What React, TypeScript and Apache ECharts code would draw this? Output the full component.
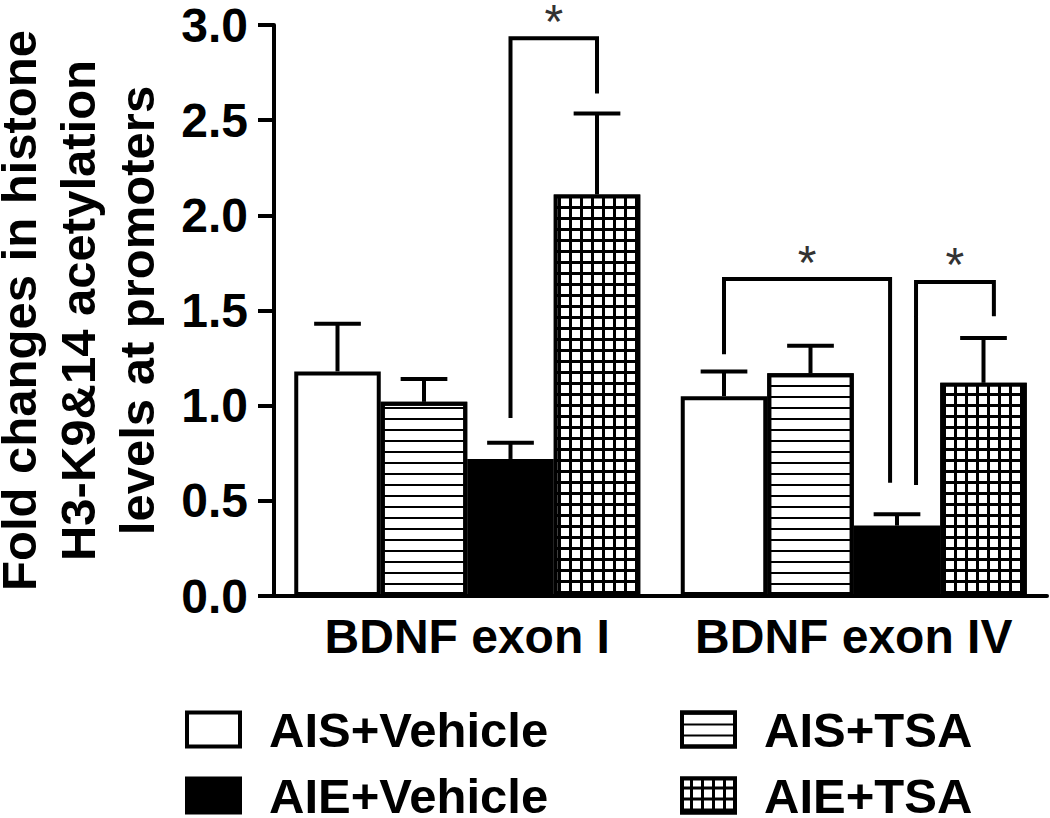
import React, { useEffect, useRef } from 'react';
import * as echarts from 'echarts';

const categories = ['BDNF exon I', 'BDNF exon IV'];
const seriesNames = ['AIS+Vehicle', 'AIS+TSA', 'AIE+Vehicle', 'AIE+TSA'];
const aisVehicle = [1.18, 1.05];
const aisTsa = [1.02, 1.17];
const aieVehicle = [0.72, 0.37];
const aieTsa = [2.11, 1.12];
const aisVehicleErr = [0.25, 0.13];
const aisTsaErr = [0.12, 0.145];
const aieVehicleErr = [0.085, 0.06];
const aieTsaErr = [0.425, 0.235];
const yTicks = [0, 0.5, 1, 1.5, 2, 2.5, 3];
// [category, fromBar, toBar, topValue, leftEndValue, rightEndValue]
const brackets = [
  [0, 2, 3, 2.93, 0.935, 2.64],
  [1, 0, 2, 1.665, 1.27, 0.595],
  [1, 2, 3, 1.65, 0.583, 1.47],
];
const bracketLabels = ['*', '*', '*'];

// layout-only nudges (fraction of bar width)
const bracketNudge = [
  [0, 0],
  [0, -0.08],
  [0.22, 0.12],
];

const FONT = '"Liberation Sans", Arial, Helvetica, sans-serif';
const BAR_W = 86.5;

export default function App() {
  const ref = useRef<HTMLDivElement>(null);
  useEffect(() => {
    if (!ref.current) return;
    const chart = echarts.init(ref.current, null, { renderer: 'svg' });
    const means = [aisVehicle, aisTsa, aieVehicle, aieTsa];
    const errs = [aisVehicleErr, aisTsaErr, aieVehicleErr, aieTsaErr];
    const styles: any[] = [
      { color: '#fff', borderColor: '#000', borderWidth: 4 },
      {
        color: '#fff', borderColor: '#000', borderWidth: 4,
        decal: { symbol: 'rect', symbolSize: 1, color: '#000', dashArrayX: [1, 0], dashArrayY: [2, 8.2], rotation: 0 },
      },
      { color: '#000', borderColor: '#000', borderWidth: 4 },
      {
        color: '#000', borderColor: '#000', borderWidth: 4,
        decal: { symbol: 'rect', symbolSize: 1, color: '#fff', dashArrayX: [7.6, 2.4], dashArrayY: [7.6, 2.4], rotation: 0 },
      },
    ];
    const barSeries = seriesNames.map((name, s) => ({
      name,
      type: 'bar',
      data: means[s],
      barWidth: BAR_W,
      barGap: '0%',
      itemStyle: styles[s],
      z: 2,
    }));
    const errData: number[][] = [];
    for (let s = 0; s < 4; s++) {
      for (let c = 0; c < categories.length; c++) {
        errData.push([c, s, means[s][c], errs[s][c]]);
      }
    }
    const legendText = { fontSize: 49, fontWeight: 'bold', color: '#000', fontFamily: FONT, lineHeight: 48, padding: [0, 0, 0, 24] };
    const legendBase = {
      orient: 'vertical', top: 705, height: 200, padding: 0,
      itemWidth: 53, itemHeight: 34, itemGap: 17, icon: 'rect', selectedMode: false,
      itemStyle: { borderWidth: 4, borderColor: '#000' },
      textStyle: legendText,
    };
    const option: any = {
      animation: false,
      backgroundColor: '#fff',
      grid: { left: 274, right: 3, top: 25, bottom: 222, containLabel: false, outerBoundsMode: 'none' },
      xAxis: {
        type: 'category',
        data: categories,
        axisLine: { lineStyle: { color: '#000', width: 4 } },
        axisTick: { show: false },
        axisLabel: { interval: 0, fontSize: 48, fontWeight: 'bold', color: '#000', fontFamily: FONT, margin: 16, hideOverlap: false },
      },
      yAxis: {
        type: 'value',
        min: yTicks[0],
        max: yTicks[yTicks.length - 1],
        interval: 0.5,
        splitLine: { show: false },
        axisLine: { show: true, lineStyle: { color: '#000', width: 4 } },
        axisTick: { show: true, inside: false, length: 16, lineStyle: { color: '#000', width: 4 } },
        axisLabel: {
          fontSize: 48, fontWeight: 'bold', color: '#000', fontFamily: FONT, margin: 26,
          formatter: (v: number) => v.toFixed(1),
        },
        name: 'Fold changes in histone\nH3-K9&14 acetylation\nlevels at promoters',
        nameLocation: 'middle',
        nameRotate: 90,
        nameGap: 108,
        nameTextStyle: { fontSize: 49, fontWeight: 'bold', color: '#000', fontFamily: FONT, lineHeight: 59 },
      },
      legend: [
        { ...legendBase, data: [seriesNames[0], seriesNames[2]], left: 185, width: 450 },
        { ...legendBase, data: [seriesNames[1], seriesNames[3]], left: 680, width: 360 },
      ],
      series: [
        ...barSeries,
        {
          type: 'custom',
          name: 'errors',
          data: errData,
          encode: { x: 0, y: 2 },
          z: 5,
          silent: true,
          renderItem: (params: any, api: any) => {
            const c = api.value(0);
            const s = api.value(1);
            const m = api.value(2);
            const e = api.value(3);
            const base = api.coord([c, m]);
            const top = api.coord([c, m + e]);
            const x = base[0] + (s - 1.5) * BAR_W;
            const half = BAR_W * 0.27;
            return {
              type: 'group',
              children: [
                { type: 'line', shape: { x1: x, y1: base[1], x2: x, y2: top[1] }, style: { stroke: '#000', lineWidth: 4 } },
                { type: 'line', shape: { x1: x - half, y1: top[1], x2: x + half, y2: top[1] }, style: { stroke: '#000', lineWidth: 4 } },
              ],
            };
          },
        },
        {
          type: 'custom',
          name: 'brackets',
          data: brackets,
          encode: { x: 0, y: 3 },
          z: 6,
          silent: true,
          renderItem: (params: any, api: any) => {
            const i = params.dataIndex;
            const c = api.value(0);
            const base = api.coord([c, 0]);
            const xL = base[0] + (api.value(1) - 1.5 + bracketNudge[i][0]) * BAR_W;
            const xR = base[0] + (api.value(2) - 1.5 + bracketNudge[i][1]) * BAR_W;
            const yT = api.coord([c, api.value(3)])[1];
            const yL = api.coord([c, api.value(4)])[1];
            const yR = api.coord([c, api.value(5)])[1];
            return {
              type: 'group',
              children: [
                {
                  type: 'polyline',
                  shape: { points: [[xL, yL], [xL, yT], [xR, yT], [xR, yR]] },
                  style: { stroke: '#000', lineWidth: 4, fill: null },
                },
                {
                  type: 'text',
                  x: (xL + xR) / 2,
                  y: yT - 17,
                  style: { text: bracketLabels[i], fontSize: 48, fill: '#333', align: 'center', verticalAlign: 'middle', fontFamily: FONT },
                },
              ],
            };
          },
        },
      ],
    };
    chart.setOption(option);
    return () => chart.dispose();
  }, []);
  return <div ref={ref} style={{ width: 1050, height: 818, position: 'absolute', left: 0, top: 0 }} />;
}
